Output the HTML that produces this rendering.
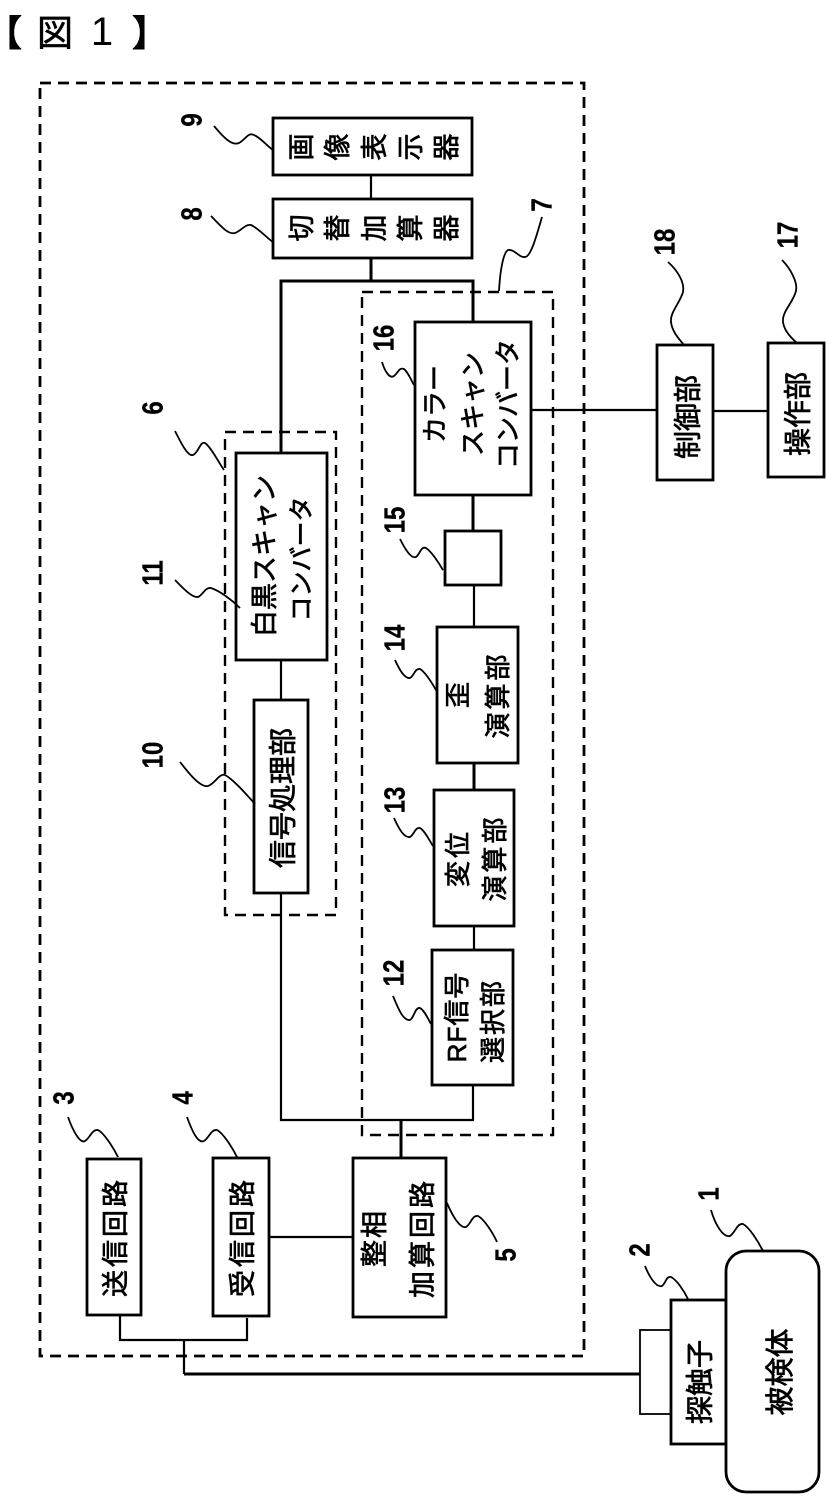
<!DOCTYPE html>
<html lang="ja"><head><meta charset="utf-8"><title>図1</title>
<style>
html,body{margin:0;padding:0;background:#fff}
svg{display:block}
text{font-family:"Liberation Sans","Noto Sans CJK JP",sans-serif;fill:#000;text-anchor:middle;dominant-baseline:central;stroke:#000;stroke-width:.7}
.n{font-size:24px;font-weight:bold;stroke-width:.3}
.b{fill:#fff;stroke:#000;stroke-width:2.8}
.l{fill:none;stroke:#000;stroke-width:2.2}
.t{fill:none;stroke:#000;stroke-width:3}
.d{fill:none;stroke:#000;stroke-width:2.4;stroke-dasharray:11 7}
.s{fill:none;stroke:#000;stroke-width:1.8}
</style></head><body>
<svg width="827" height="1508" viewBox="0 0 827 1508" xmlns="http://www.w3.org/2000/svg">
<g style="font-size:36px">
<text x="4" y="33" style="stroke-width:1">【</text>
<text x="55" y="33" style="stroke-width:.6">図</text>
<text x="102" y="32" style="font-size:40px;stroke-width:0">1</text>
<text x="150" y="33" style="stroke-width:1">】</text>
</g>

<rect class="d" x="40" y="83" width="544" height="1273" style="stroke-width:2.8"/>
<rect class="d" x="362" y="292" width="191" height="843"/>
<rect class="d" x="225" y="432" width="111" height="483"/>

<path class="t" d="M371 258V281M281 453V281H473V322M473 495V531M474 763V790M401 1120V1158M184 1374H640"/>
<path class="l" d="M371 175V199M474 585V627M474 926V950M473 1084V1120H281V893M281 660V700M269 1237H353M120 1316V1340H247V1318M184 1340V1374M531 410H658M713 411H768"/>

<rect class="b" x="273" y="118" width="199" height="57"/>
<rect class="b" x="273" y="199" width="199" height="59"/>
<rect class="b" x="415" y="322" width="116" height="173"/>
<rect class="b" x="445" y="531" width="56" height="54"/>
<rect class="b" x="437" y="627" width="81" height="136"/>
<rect class="b" x="434" y="790" width="80" height="136"/>
<rect class="b" x="432" y="950" width="81" height="135"/>
<rect class="b" x="236" y="453" width="91" height="207"/>
<rect class="b" x="254" y="700" width="54" height="193"/>
<rect class="b" x="353" y="1158" width="93" height="159"/>
<rect class="b" x="87" y="1159" width="54" height="156"/>
<rect class="b" x="213" y="1158" width="56" height="158"/>
<rect class="b" x="657" y="345" width="56" height="135"/>
<rect class="b" x="768" y="343" width="56" height="134"/>
<rect class="b" x="640" y="1330" width="31" height="84" style="stroke-width:1.8"/>
<rect class="b" x="671" y="1300" width="55" height="144"/>
<rect class="b" x="726" y="1251" width="93" height="241" rx="20" ry="20"/>

<path class="s" d="M214 126C224 138 232 146 239 143C246 139 248 132 254 135C261 138 267 146 273 150"/>
<path class="s" d="M211 216C221 226 228 235 235 233C241 231 245 224 251 225C258 228 267 238 274 243"/>
<path class="s" d="M175 431C181 443 188 457 193 455C199 452 200 441 205 443C211 447 219 463 224 470"/>
<path class="s" d="M382 362C385 372 390 379 394 376C398 373 399 367 404 369C408 372 411 380 414 385"/>
<path class="s" d="M542 217C537 234 531 257 525 257C519 258 515 249 508 250C503 253 500 272 499 291"/>
<path class="s" d="M668 262C677 270 685 282 683 292C680 303 670 312 671 322C672 331 678 338 684 345"/>
<path class="s" d="M782 260C790 268 798 282 796 291C793 303 782 311 783 322C784 330 790 337 797 343"/>
<path class="s" d="M400 539C405 549 411 559 416 557C420 554 421 546 426 548C431 551 439 563 443 570"/>
<path class="s" d="M395 660C400 671 405 679 410 678C414 676 415 668 420 669C425 672 432 683 436 690"/>
<path class="s" d="M394 818C399 829 404 838 410 837C414 835 415 827 420 828C425 831 429 840 433 846"/>
<path class="s" d="M393 996C398 1008 403 1021 410 1020C414 1018 415 1007 420 1008C425 1011 428 1019 431 1024"/>
<path class="s" d="M175 580C183 588 192 598 198 597C203 595 205 587 211 588C220 591 232 600 240 608"/>
<path class="s" d="M180 762C188 772 200 788 208 786C215 784 219 773 225 775C233 779 247 795 255 804"/>
<path class="s" d="M68 1117C73 1131 80 1144 85 1141C90 1138 92 1129 98 1130C104 1133 113 1147 118 1157"/>
<path class="s" d="M187 1117C192 1131 198 1144 204 1141C209 1138 211 1129 217 1130C223 1133 232 1147 237 1157"/>
<path class="s" d="M447 1203C452 1215 460 1229 466 1227C471 1224 472 1215 478 1216C484 1219 493 1233 497 1242"/>
<path class="s" d="M645 1266C649 1276 656 1288 662 1286C666 1283 666 1276 671 1277C677 1280 684 1291 688 1299"/>
<path class="s" d="M711 1210C715 1224 723 1238 730 1236C735 1233 737 1223 743 1224C749 1227 758 1241 763 1251"/>

<text class="n" transform="translate(192 120) rotate(-90) scale(1 1.18)">9</text>
<text class="n" transform="translate(192 214) rotate(-90) scale(1 1.18)">8</text>
<text class="n" transform="translate(153 408) rotate(-90) scale(1 1.18)">6</text>
<text class="n" transform="translate(542 205) rotate(-90) scale(1 1.18)">7</text>
<text class="n" transform="translate(384 338) rotate(-90) scale(1 1.18)">16</text>
<text class="n" transform="translate(665 242) rotate(-90) scale(1 1.18)">18</text>
<text class="n" transform="translate(788 235) rotate(-90) scale(1 1.18)">17</text>
<text class="n" transform="translate(395 520) rotate(-90) scale(1 1.18)">15</text>
<text class="n" transform="translate(395 638) rotate(-90) scale(1 1.18)">14</text>
<text class="n" transform="translate(395 800) rotate(-90) scale(1 1.18)">13</text>
<text class="n" transform="translate(394 973) rotate(-90) scale(1 1.18)">12</text>
<text class="n" transform="translate(153 573) rotate(-90) scale(1 1.18)">11</text>
<text class="n" transform="translate(153 755) rotate(-90) scale(1 1.18)">10</text>
<text class="n" transform="translate(64 1098) rotate(-90) scale(1 1.18)">3</text>
<text class="n" transform="translate(183 1098) rotate(-90) scale(1 1.18)">4</text>
<text class="n" transform="translate(506 1255) rotate(-90) scale(1 1.18)">5</text>
<text class="n" transform="translate(640 1250) rotate(-90) scale(1 1.18)">2</text>
<text class="n" transform="translate(709 1194) rotate(-90) scale(1 1.18)">1</text>

<g style="font-size:27px">
<text transform="translate(302 147) rotate(-90)">画</text>
<text transform="translate(338 147) rotate(-90)">像</text>
<text transform="translate(375 147) rotate(-90)">表</text>
<text transform="translate(411 147) rotate(-90)">示</text>
<text transform="translate(447 147) rotate(-90)">器</text>
<text transform="translate(302 228) rotate(-90)">切</text>
<text transform="translate(338 228) rotate(-90)">替</text>
<text transform="translate(375 228) rotate(-90)">加</text>
<text transform="translate(411 228) rotate(-90)">算</text>
<text transform="translate(447 228) rotate(-90)">器</text>
</g>

<g style="font-size:26px">
<text transform="translate(435 404) rotate(-90)">カラー</text>
<text transform="translate(473 404) rotate(-90)">スキャン</text>
<text transform="translate(508 404) rotate(-90)">コンバータ</text>
<text transform="translate(458 695) rotate(-90)">歪</text>
<text transform="translate(498 695) rotate(-90)" style="letter-spacing:3px">演算部</text>
<text transform="translate(458 858) rotate(-90)" style="letter-spacing:3px">変位</text>
<text transform="translate(495 858) rotate(-90)" style="letter-spacing:3px">演算部</text>
<text transform="translate(457 1017) rotate(-90)" style="letter-spacing:1px">RF信号</text>
<text transform="translate(493 1021) rotate(-90)" style="letter-spacing:2px">選択部</text>
<text transform="translate(302 559) rotate(-90)" style="font-size:25px">コンバータ</text>
</g>
<g style="font-size:27px">
<text transform="translate(265 556) rotate(-90)">白黒スキャン</text>
<text transform="translate(283 798) rotate(-90)" style="font-size:28px">信号処理部</text>
<text transform="translate(375 1238) rotate(-90)" style="letter-spacing:2px">整相</text>
<text transform="translate(423 1238) rotate(-90)" style="letter-spacing:3px">加算回路</text>
<text transform="translate(116 1237) rotate(-90)" style="letter-spacing:3px">送信回路</text>
<text transform="translate(243 1237) rotate(-90)" style="letter-spacing:3px">受信回路</text>
<text transform="translate(688 417) rotate(-90)" style="font-size:28px">制御部</text>
<text transform="translate(798 414) rotate(-90)" style="font-size:28px">操作部</text>
<text transform="translate(700 1382) rotate(-90)" style="font-size:28px">探触子</text>
<text transform="translate(781 1372) rotate(-90)" style="font-size:29px">被検体</text>
</g>
</svg>
</body></html>
